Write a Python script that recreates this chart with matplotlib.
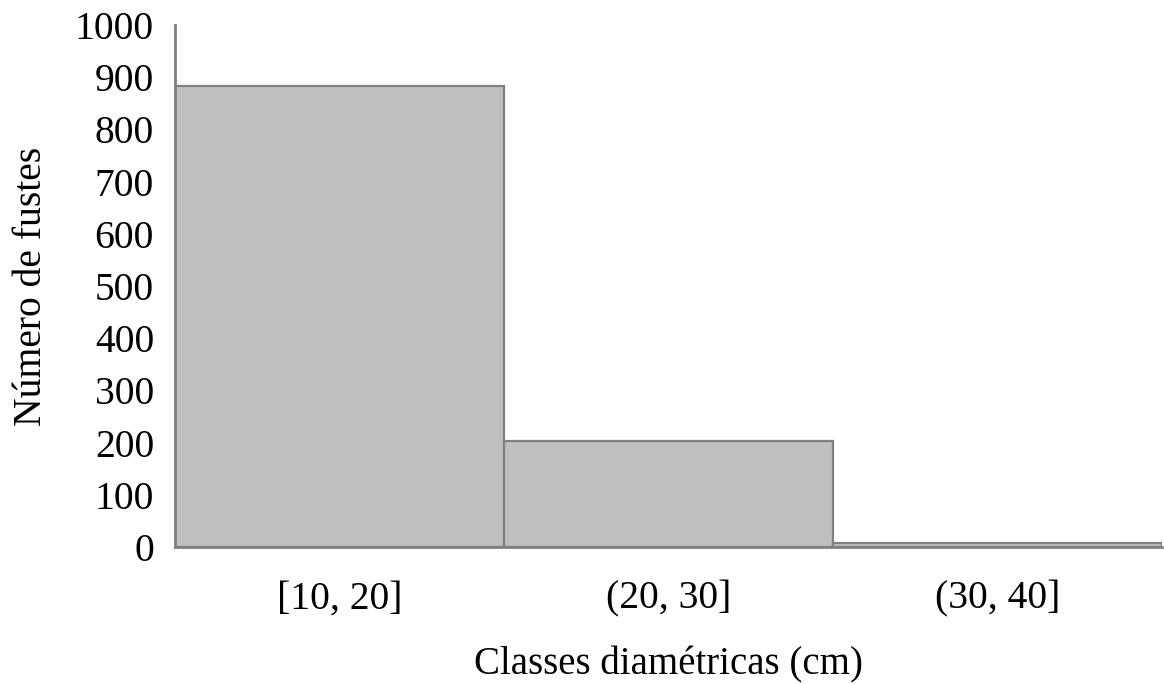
import matplotlib.pyplot as plt

# diameter classes and stem counts
classes = ["[10, 20]", "(20, 30]", "(30, 40]"]
fustes = [884, 204, 8]

plt.rcParams['font.family'] = ['Liberation Serif', 'DejaVu Serif']

fig = plt.figure(figsize=(11.64, 6.84), dpi=100)
ax = fig.add_axes([0.1503, 0.2003, 0.8477, 0.7632])

x = range(len(classes))
ax.bar(x, fustes, width=1.0, color="#bfbfbf", edgecolor="#808080", linewidth=1.6)

ax.set_xlim(-0.5, 2.5)
ax.set_ylim(0, 1000)
ax.set_yticks(range(0, 1001, 100))
ax.set_xticks(list(x))
ax.set_xticklabels(classes)
ax.tick_params(axis="both", length=0, labelsize=28.5, colors="black")
ax.tick_params(axis="x", pad=24)
ax.tick_params(axis="y", pad=15)

for s in ["top", "right"]:
    ax.spines[s].set_visible(False)
ax.spines["left"].set_color("#808080")
ax.spines["left"].set_linewidth(2)
ax.spines["bottom"].set_color("#808080")
ax.spines["bottom"].set_linewidth(2)

ax.set_xlabel("Classes diamétricas (cm)", fontsize=28, labelpad=21)
ax.set_ylabel("Número de fustes", fontsize=28.5, labelpad=18)

fig.savefig("out.png", dpi=100)
